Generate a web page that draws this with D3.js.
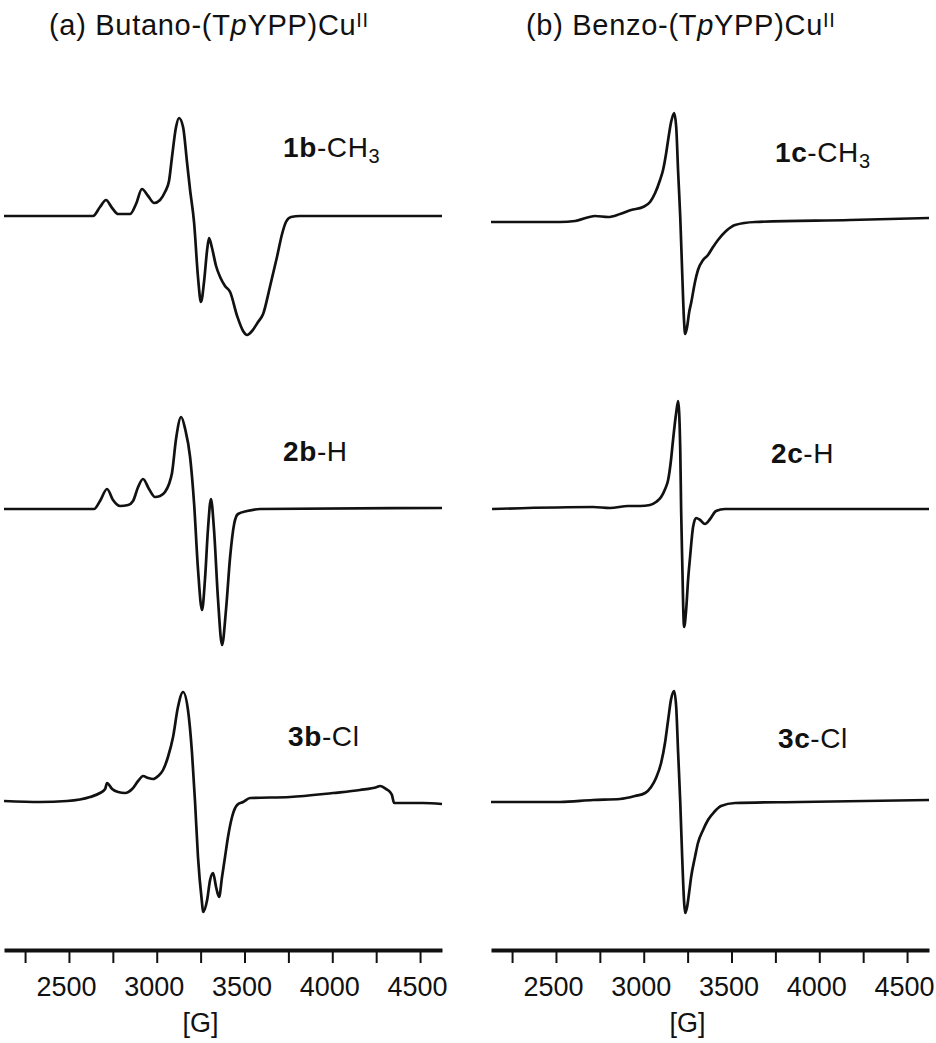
<!DOCTYPE html>
<html>
<head>
<meta charset="utf-8">
<script src="https://cdn.jsdelivr.net/npm/d3@7"></script>
<style>
  html, body { margin: 0; padding: 0; background: #fff; }
  svg { display: block; font-family: "Liberation Sans", Arial, Helvetica, sans-serif; }
</style>
</head>
<body>
<div id="chart"></div>
<script>
// Field axis (G)
const tickFields = [2250, 2500, 2750, 3000, 3250, 3500, 3750, 4000, 4250, 4500];
const labelledTicks = [2500, 3000, 3500, 4000, 4500];
const fieldExtentA = [2130, 4625];
const fieldExtentB = [2130, 4625];

// (a) Butano-(TpYPP)Cu(II) spectra: field [G] / signal [a.u.]
const field1b = [2130, 2637, 2677, 2711, 2746, 2780, 2848, 2882, 2916, 2951, 2985, 3019, 3047, 3070, 3087, 3110, 3127, 3150, 3173, 3190, 3213, 3235, 3252, 3270, 3287, 3298, 3315, 3338, 3361, 3389, 3418, 3458, 3492, 3515, 3543, 3577, 3606, 3646, 3685, 3714, 3736, 3765, 3816, 4625];
const signal1b = [0, 0, 9, 16, 8, 2, 2, 12, 27, 20, 13, 16, 24, 35, 59, 89, 98, 89, 53, 26, -7, -61, -86, -65, -34, -22, -32, -50, -61, -70, -76, -100, -115, -119, -115, -106, -98, -70, -41, -18, -6, -1, 0, 0];

const field2b = [2130, 2643, 2677, 2717, 2751, 2791, 2837, 2865, 2894, 2922, 2956, 2990, 3019, 3047, 3070, 3087, 3110, 3139, 3162, 3190, 3213, 3235, 3258, 3275, 3292, 3309, 3326, 3349, 3372, 3395, 3418, 3441, 3463, 3515, 3589, 4625];
const signal2b = [0, 0, 8, 20, 9, 3, 4, 8, 22, 30, 20, 12, 13, 17, 25, 36, 70, 92, 80, 52, 5, -60, -101, -70, -20, 10, -20, -90, -136, -100, -48, -15, -5, -2, 0, 1];

const field3b = [2130, 2335, 2489, 2620, 2677, 2706, 2717, 2746, 2780, 2820, 2860, 2894, 2922, 2951, 2979, 3008, 3036, 3064, 3093, 3121, 3150, 3178, 3201, 3218, 3235, 3258, 3264, 3287, 3304, 3321, 3338, 3355, 3372, 3389, 3406, 3429, 3458, 3492, 3532, 3759, 4004, 4158, 4255, 4272, 4306, 4329, 4340, 4352, 4517, 4625];
const signal3b = [0, -1, 0, 4, 8, 12, 18, 12, 9, 8, 12, 20, 25, 23, 22, 25, 31, 44, 64, 94, 109, 91, 48, 0, -56, -102, -111, -99, -79, -72, -86, -96, -76, -56, -36, -16, -4, -1, 3, 4, 8, 11, 14, 15, 12, 9, 6, -2, -2, -3];

// (b) Benzo-(TpYPP)Cu(II) spectra
const field1c = [2130, 2523, 2609, 2723, 2797, 2865, 2928, 2996, 3036, 3065, 3093, 3110, 3127, 3139, 3156, 3173, 3185, 3196, 3208, 3219, 3230, 3236, 3247, 3259, 3270, 3292, 3309, 3338, 3366, 3395, 3423, 3469, 3520, 3634, 4175, 4625];
const signal1c = [0, 0, 1, 6, 5, 8, 12, 15, 20, 29, 42, 52, 68, 82, 100, 109, 95, 50, 5, -50, -100, -112, -105, -90, -81, -60, -48, -38, -33, -25, -18, -9, -3, 0, 2, 4];

const field2c = [2136, 2711, 2808, 2911, 2979, 3036, 3070, 3099, 3122, 3139, 3156, 3167, 3184, 3196, 3208, 3213, 3219, 3230, 3242, 3253, 3264, 3281, 3298, 3321, 3349, 3378, 3412, 3463, 4625];
const signal2c = [0, 2, 1, 3, 3, 4, 7, 12, 20, 29, 50, 69, 95, 108, 60, 0, -50, -118, -100, -70, -48, -18, -9, -11, -15, -10, -2, 0, 0];

const field3c = [2130, 2523, 2711, 2865, 2951, 3008, 3042, 3070, 3099, 3122, 3139, 3156, 3173, 3185, 3196, 3208, 3219, 3230, 3236, 3247, 3259, 3270, 3292, 3309, 3338, 3366, 3401, 3440, 3520, 3890, 4625];
const signal3c = [0, 0, 2, 3, 6, 9, 15, 24, 39, 60, 82, 103, 111, 95, 49, 0, -55, -100, -111, -105, -90, -75, -55, -41, -28, -18, -10, -4, -1, 0, 2];

const panels = [
  {
    title: ['(a) Butano-(T', 'p', 'YPP)Cu', 'II'],
    titleX: 49,
    extent: fieldExtentA,
    range: [4, 442],
    spectra: [
      { field: field1b, signal: signal1b, base: 216, label: ['1b', '-CH', '3'], lx: 283, ly: 157 },
      { field: field2b, signal: signal2b, base: 509, label: ['2b', '-H', ''], lx: 283, ly: 461 },
      { field: field3b, signal: signal3b, base: 801, label: ['3b', '-Cl', ''], lx: 288, ly: 746 }
    ]
  },
  {
    title: ['(b) Benzo-(T', 'p', 'YPP)Cu', 'II'],
    titleX: 526,
    extent: fieldExtentB,
    range: [491, 929],
    spectra: [
      { field: field1c, signal: signal1c, base: 222, label: ['1c', '-CH', '3'], lx: 775, ly: 162 },
      { field: field2c, signal: signal2c, base: 509, label: ['2c', '-H', ''], lx: 771, ly: 463 },
      { field: field3c, signal: signal3c, base: 802, label: ['3c', '-Cl', ''], lx: 778, ly: 748 }
    ]
  }
];

const width = 936, height = 1043;
const axisY = 950;
const ink = '#111';

const svg = d3.select('#chart').append('svg')
  .attr('width', width)
  .attr('height', height);

panels.forEach(panel => {
  const x = d3.scaleLinear().domain(panel.extent).range(panel.range);
  const g = svg.append('g');

  // title
  const t = g.append('text')
    .attr('x', panel.titleX)
    .attr('y', 35)
    .attr('font-size', 29)
    .attr('letter-spacing', 0.7)
    .attr('fill', ink);
  t.append('tspan').text(panel.title[0]);
  t.append('tspan').attr('font-style', 'italic').text(panel.title[1]);
  t.append('tspan').text(panel.title[2]);
  t.append('tspan').attr('font-size', 20).attr('dy', -8).text(panel.title[3]);

  // spectra
  panel.spectra.forEach(s => {
    const y = d3.scaleLinear().domain([-150, 150]).range([s.base + 150, s.base - 150]);
    const pts = s.field.map((f, i) => [f, s.signal[i]]);
    const line = d3.line()
      .x(d => x(d[0]))
      .y(d => y(d[1]))
      .curve(d3.curveMonotoneX);

    g.append('path')
      .datum(pts)
      .attr('d', line)
      .attr('fill', 'none')
      .attr('stroke', ink)
      .attr('stroke-width', 2.7)
      .attr('stroke-linejoin', 'round');

    const lab = g.append('text')
      .attr('x', s.lx)
      .attr('y', s.ly)
      .attr('font-size', 28)
      .attr('letter-spacing', 0.6)
      .attr('fill', ink);
    lab.append('tspan').attr('font-weight', 'bold').text(s.label[0]);
    lab.append('tspan').text(s.label[1]);
    if (s.label[2]) {
      lab.append('tspan').attr('font-size', 20).attr('dy', 6).text(s.label[2]);
    }
  });

  // field axis
  const axis = d3.axisBottom(x)
    .tickValues(tickFields)
    .tickFormat(d => labelledTicks.includes(d) ? d : '')
    .tickSize(13)
    .tickSizeOuter(0)
    .tickPadding(14);

  const ax = g.append('g')
    .attr('transform', `translate(0,${axisY})`)
    .call(axis);
  ax.select('.domain').attr('stroke', ink).attr('stroke-width', 4);
  ax.selectAll('.tick line').attr('stroke', ink).attr('stroke-width', 2);
  ax.selectAll('.tick text')
    .attr('fill', ink)
    .attr('dx', -3)
    .attr('font-size', 27)
    .attr('font-family', '"Liberation Sans", Arial, Helvetica, sans-serif');

  g.append('text')
    .attr('x', x(3250))
    .attr('y', 1032)
    .attr('text-anchor', 'middle')
    .attr('font-size', 27)
    .attr('fill', ink)
    .text('[G]');
});
</script>
</body>
</html>
